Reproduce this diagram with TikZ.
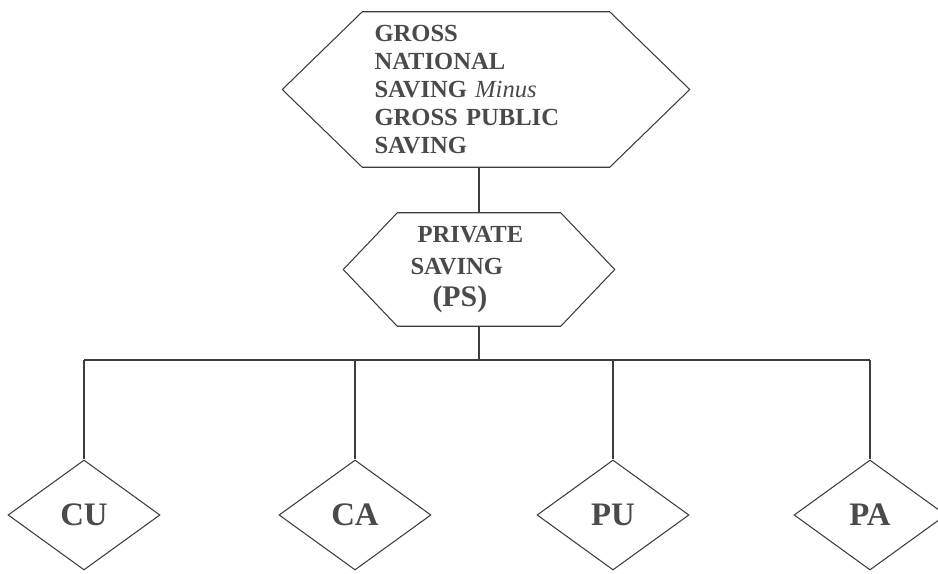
\documentclass[tikz,border=0pt]{standalone}
\usepackage{fontspec}
\setmainfont{Liberation Serif}
\usetikzlibrary{shapes.geometric}
\definecolor{inkline}{HTML}{3C3C3C}
\definecolor{inktext}{HTML}{4A4A4A}
\begin{document}
\begin{tikzpicture}[
  line/.style={draw=inkline, line width=0.9pt},
  hexbox/.style={inner ysep=0pt, align=left, text=inktext, font=\bfseries},
  dia/.style={diamond, line, inner sep=0pt, minimum width=4.56cm,
    minimum height=3.3cm, text=inktext, font=\fontsize{28}{30}\selectfont\bfseries}]
\useasboundingbox (0,0) rectangle (28.14,17.19);
% top box
\node[hexbox, inner xsep=0.36cm, text width=6.69cm, minimum height=4.65cm,
  font=\fontsize{21}{24}\selectfont\bfseries] (gns) at (14.58,14.505)
  {GROSS\\NATIONAL\\SAVING {\normalfont\itshape Minus}\\GROSS PUBLIC\\SAVING};
\draw[line] (gns.north west) -- (gns.north east) -- ([xshift=2.4cm]gns.east)
  -- (gns.south east) -- (gns.south west) -- ([xshift=-2.4cm]gns.west) -- cycle;
% private saving
\node[hexbox, inner xsep=0.39cm, text width=4.11cm, minimum height=3.39cm,
  font=\fontsize{21}{27}\selectfont\bfseries] (ps) at (14.37,9.105)
  {\hspace*{0.21cm}PRIVATE\\SAVING\\\hspace*{0.66cm}{\fontsize{25.5}{27}\selectfont (PS)}};
\draw[line] (ps.north west) -- (ps.north east) -- ([xshift=1.62cm]ps.east)
  -- (ps.south east) -- (ps.south west) -- ([xshift=-1.62cm]ps.west) -- cycle;
% sectors
\node[dia] (cu) at (2.52,1.74) {CU};
\node[dia] (ca) at (10.65,1.74) {CA};
\node[dia] (pu) at (18.39,1.74) {PU};
\node[dia] (pa) at (26.1,1.74) {PA};
\coordinate (bus) at (14.37,6.39);
\draw[line] (ps.north) -- (ps.north |- gns.south);
\draw[line] (ps.south) -- (bus);
\draw[line] (cu |- bus) -- (pa |- bus);
\foreach \s in {cu,ca,pu,pa}
  \draw[line] (\s |- bus) -- (\s.north);
\end{tikzpicture}
\end{document}
